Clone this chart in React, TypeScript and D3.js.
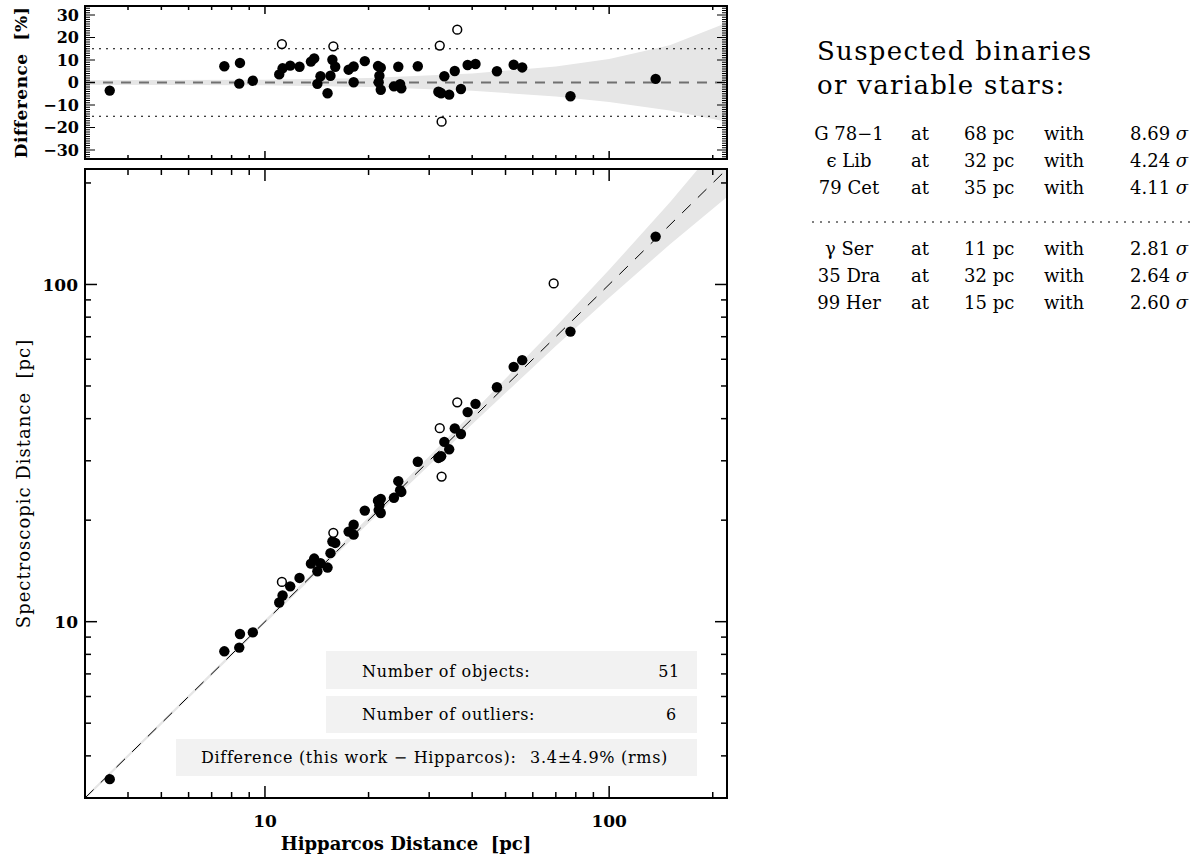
import React from "react";
import * as d3 from "d3";

// Hipparcos distance [pc] and difference (this work - Hipparcos) [%] for regular objects
const hipDist = [3.54, 7.62, 8.46, 8.42, 9.22, 11.0, 11.25, 11.84, 12.6, 13.6, 13.9, 14.2, 14.5, 15.2, 15.5, 15.7, 16.0, 17.5, 18.1, 18.1, 19.5, 21.3, 21.5, 21.4, 21.7, 21.7, 23.7, 24.7, 24.9, 24.4, 27.8, 31.9, 32.2, 32.5, 33.2, 34.3, 35.6, 37.1, 38.8, 40.9, 47.2, 52.8, 55.9, 77.2, 136.5];
const diffPct = [-3.6, 7.2, 8.7, -0.5, 0.8, 3.6, 6.3, 7.5, 7.0, 9.3, 10.7, -0.6, 2.8, -4.8, 3.0, 10.1, 7.0, 5.7, 7.1, 0.1, 9.5, 7.3, 3.0, 0.1, -3.2, 6.6, -1.7, -0.7, -2.6, 7.0, 7.2, -4.1, -4.4, -4.8, 2.8, -5.4, 5.1, -2.9, 7.8, 8.2, 5.0, 7.9, 6.7, -6.1, 1.6];

// outliers (open circles)
const outHip = [11.2, 15.8, 32.2, 36.2, 32.6, 69.0];
const outDiff = [17.1, 16.1, 16.4, 23.5, -17.4, 46.0];

// uncertainty band (percent) vs distance
const bandDist = [3, 10, 20, 40, 70, 100, 150, 220];
const bandUpper = [1.0, 1.2, 2.0, 4.0, 7.1, 10.5, 16.6, 26.6];
const bandLower = [-1.0, -1.2, -2.0, -3.7, -6.2, -8.7, -12.4, -17.4];

const topTicks = [30, 20, 10, 0, -10, -20, -30];
const logTicks = [4, 5, 6, 7, 8, 9, 10, 20, 30, 40, 50, 60, 70, 80, 90, 100, 200];
const majorLog = [10, 100];

const suspects = [
  { name: "G 78\u22121", dist: "68 pc", sig: "8.69" },
  { name: "\u03f5 Lib", dist: "32 pc", sig: "4.24" },
  { name: "79 Cet", dist: "35 pc", sig: "4.11" },
];
const suspects2 = [
  { name: "\u03b3 Ser", dist: "11 pc", sig: "2.81" },
  { name: "35 Dra", dist: "32 pc", sig: "2.64" },
  { name: "99 Her", dist: "15 pc", sig: "2.60" },
];

const FONT = "DejaVu Serif";

export default function App() {
  const L = 85, R = 727;
  const tT = 6, tB = 159;
  const mT = 169, mB = 798;
  const x = d3.scaleLog().domain([3, 220]).range([L, R]);
  const yTop = d3.scaleLinear().domain([-34, 34]).range([tB, tT]);
  const yMain = d3.scaleLog().domain([3, 220]).range([mB, mT]);

  const bandIdx = d3.range(bandDist.length);
  const topBand = d3.area<number>()
    .x((i) => x(bandDist[i]))
    .y0((i) => yTop(bandLower[i]))
    .y1((i) => yTop(bandUpper[i]))(bandIdx) || "";
  const mainBand = d3.area<number>()
    .x((i) => x(bandDist[i]))
    .y0((i) => yMain(bandDist[i] * (1 + bandLower[i] / 100)))
    .y1((i) => yMain(bandDist[i] * (1 + bandUpper[i] / 100)))(bandIdx) || "";

  const minorTop = d3.range(-34, 35);

  const logTickMarks = (yEdge: number, dir: number, key: string) =>
    logTicks.map((t) => {
      const len = majorLog.includes(t) ? 12 : 6;
      return <line key={key + t} x1={x(t)} x2={x(t)} y1={yEdge} y2={yEdge + dir * len} stroke="#000" strokeWidth={1.5} />;
    });
  const logTickMarksTop = (yEdge: number, dir: number, key: string) =>
    logTicks.map((t) => {
      const len = majorLog.includes(t) ? 8 : 4;
      return <line key={key + t} x1={x(t)} x2={x(t)} y1={yEdge} y2={yEdge + dir * len} stroke="#000" strokeWidth={1.5} />;
    });

  const R_DOT = 5.2;
  const R_OPEN = 4.4;

  return (
    <svg width={1195} height={854} style={{ position: "absolute", left: 0, top: 0, background: "#fff" }} fontFamily={FONT}>
      <defs>
        <clipPath id="clipTop"><rect x={L} y={tT} width={R - L} height={tB - tT} /></clipPath>
        <clipPath id="clipMain"><rect x={L} y={mT} width={R - L} height={mB - mT} /></clipPath>
      </defs>

      {/* ---------- TOP PANEL ---------- */}
      <g clipPath="url(#clipTop)">
        <path d={topBand} fill="#e6e6e6" />
        <line x1={L} x2={R} y1={yTop(0)} y2={yTop(0)} stroke="#707070" strokeWidth={2} strokeDasharray="10,8" />
        {[15, -15].map((v) => (
          <line key={v} x1={L} x2={R} y1={yTop(v)} y2={yTop(v)} stroke="#000" strokeWidth={1} strokeDasharray="2,5" />
        ))}
        {hipDist.map((d, i) => (
          <circle key={"t" + i} cx={x(d)} cy={yTop(diffPct[i])} r={R_DOT} fill="#000" />
        ))}
        {outHip.map((d, i) => (
          <circle key={"to" + i} cx={x(d)} cy={yTop(outDiff[i])} r={R_OPEN} fill="#fff" stroke="#000" strokeWidth={1.5} />
        ))}
      </g>
      {minorTop.map((v) => {
        const len = v % 10 === 0 ? 10 : 5;
        return (
          <g key={"mt" + v}>
            <line x1={L} x2={L + len} y1={yTop(v)} y2={yTop(v)} stroke="#000" strokeWidth={1} />
            <line x1={R} x2={R - len} y1={yTop(v)} y2={yTop(v)} stroke="#000" strokeWidth={1} />
          </g>
        );
      })}
      {logTickMarksTop(tT, 1, "tt")}
      {logTickMarksTop(tB, -1, "tb")}
      <rect x={L} y={tT} width={R - L} height={tB - tT} fill="none" stroke="#000" strokeWidth={2} />
      {topTicks.map((v) => (
        <text key={"tl" + v} x={79} y={yTop(v)} dy="0.36em" textAnchor="end" fontSize={16} fontWeight="bold">
          {v < 0 ? "\u2212" + Math.abs(v) : String(v)}
        </text>
      ))}
      <text transform={`translate(27,${(tT + tB) / 2}) rotate(-90)`} textAnchor="middle" fontSize={17} fontWeight="bold" letterSpacing={0.5}>
        Difference{"\u00a0\u00a0"}[%]
      </text>

      {/* ---------- MAIN PANEL ---------- */}
      <g clipPath="url(#clipMain)">
        <path d={mainBand} fill="#e6e6e6" />
        <line x1={x(3)} y1={yMain(3)} x2={x(220)} y2={yMain(220)} stroke="#000" strokeWidth={1} strokeDasharray="12,10" />
        {hipDist.map((d, i) => (
          <circle key={"m" + i} cx={x(d)} cy={yMain(d * (1 + diffPct[i] / 100))} r={R_DOT} fill="#000" />
        ))}
        {outHip.map((d, i) => (
          <circle key={"mo" + i} cx={x(d)} cy={yMain(d * (1 + outDiff[i] / 100))} r={R_OPEN} fill="#fff" stroke="#000" strokeWidth={1.5} />
        ))}
      </g>
      {logTickMarks(mB, -1, "mb")}
      {logTickMarks(mT, 1, "mt")}
      {logTicks.map((t) => {
        const len = majorLog.includes(t) ? 12 : 6;
        return (
          <g key={"my" + t}>
            <line x1={L} x2={L + len} y1={yMain(t)} y2={yMain(t)} stroke="#000" strokeWidth={1.5} />
            <line x1={R} x2={R - len} y1={yMain(t)} y2={yMain(t)} stroke="#000" strokeWidth={1.5} />
          </g>
        );
      })}
      <rect x={L} y={mT} width={R - L} height={mB - mT} fill="none" stroke="#000" strokeWidth={2} />
      {majorLog.map((t) => (
        <text key={"xl" + t} x={x(t)} y={827} textAnchor="middle" fontSize={17} fontWeight="bold">{t}</text>
      ))}
      {majorLog.map((t) => (
        <text key={"yl" + t} x={78} y={yMain(t)} dy="0.36em" textAnchor="end" fontSize={17} fontWeight="bold">{t}</text>
      ))}
      <text x={(L + R) / 2} y={850} textAnchor="middle" fontSize={18} fontWeight="bold">
        Hipparcos Distance{"\u00a0\u00a0"}[pc]
      </text>
      <text transform={`translate(30,${(mT + mB) / 2}) rotate(-90)`} textAnchor="middle" fontSize={18} letterSpacing={1}>
        Spectroscopic Distance{"\u00a0\u00a0"}[pc]
      </text>

      {/* info boxes */}
      <g fontSize={16} letterSpacing={0.7}>
        <rect x={326} y={651} width={371} height={38} fill="#f2f2f2" />
        <text x={362} y={677}>Number of objects:</text>
        <text x={680} y={677} textAnchor="end">51</text>
        <rect x={326} y={696} width={371} height={37} fill="#f2f2f2" />
        <text x={362} y={720}>Number of outliers:</text>
        <text x={677} y={720} textAnchor="end">6</text>
        <rect x={176} y={739} width={521} height={37} fill="#f2f2f2" />
        <text x={201} y={763}>Difference (this work {"\u2212"} Hipparcos):</text>
        <text x={668} y={763} textAnchor="end">3.4±4.9% (rms)</text>
      </g>

      {/* ---------- RIGHT TEXT ---------- */}
      <g fontSize={26} letterSpacing={1.3}>
        <text x={817} y={60}>Suspected binaries</text>
        <text x={817} y={94}>or variable stars:</text>
      </g>
      {suspects.map((s, i) => {
        const yy = 140 + i * 27;
        return (
          <g key={"s" + i} fontSize={18}>
            <text x={849} y={yy} textAnchor="middle">{s.name}</text>
            <text x={911} y={yy}>at</text>
            <text x={964} y={yy}>{s.dist}</text>
            <text x={1044} y={yy}>with</text>
            <text x={1130} y={yy}>{s.sig} <tspan fontStyle="italic">σ</tspan></text>
          </g>
        );
      })}
      <line x1={812} x2={1195} y1={222} y2={222} stroke="#000" strokeWidth={1} strokeDasharray="2,6" />
      {suspects2.map((s, i) => {
        const yy = 255 + i * 27;
        return (
          <g key={"s2" + i} fontSize={18}>
            <text x={849} y={yy} textAnchor="middle">{s.name}</text>
            <text x={911} y={yy}>at</text>
            <text x={964} y={yy}>{s.dist}</text>
            <text x={1044} y={yy}>with</text>
            <text x={1130} y={yy}>{s.sig} <tspan fontStyle="italic">σ</tspan></text>
          </g>
        );
      })}
    </svg>
  );
}
